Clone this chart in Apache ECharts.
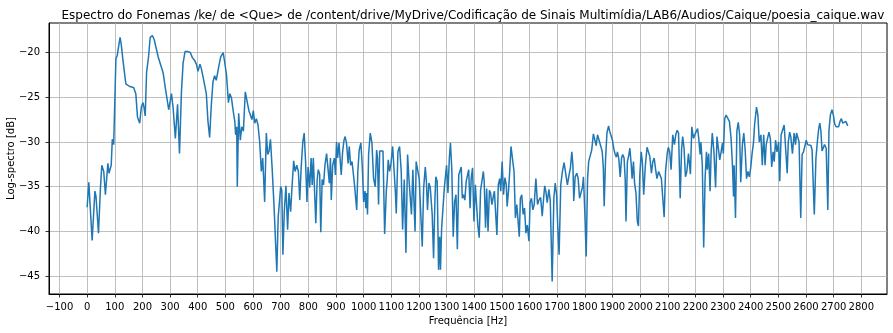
<!DOCTYPE html>
<html>
<head>
<meta charset="utf-8">
<script src="https://cdn.jsdelivr.net/npm/echarts@6/dist/echarts.min.js"></script>
<style>html,body{margin:0;padding:0;background:#fff;}#c{width:893px;height:333px;}</style>
</head>
<body>
<div id="c"></div>
<script>
const chartTitle = "Espectro do Fonemas /ke/ de <Que> de /content/drive/MyDrive/Codificação de Sinais Multimídia/LAB6/Audios/Caique/poesia_caique.wav";
const xTicks = [-100,0,100,200,300,400,500,600,700,800,900,1000,1100,1200,1300,1400,1500,1600,1700,1800,1900,2000,2100,2200,2300,2400,2500,2600,2700,2800];
const yTicks = [-45,-40,-35,-30,-25,-20];
const freqHz = [
0,6,18,28,32,41,48,53,60,66,75,79,87,91,96,104,109,119,123,130,140,147,154,161,168,176,182,186,190,196,202,206,210,215,222,228,236,243,248,251,257,
275,283,289,295,305,311,314,319,327,334,341,347,354,365,373,381,389,395,401,408,413,419,424,431,437,443,449,455,461,467,472,477,483,492,498,504,511,516,522,528,534,537,541,543,548,554,559,565,572,579,585,590,596,601,606,612,618,624,630,635,642,648,653,658,663,669,676,680,686,691,697,
700,704,708,713,719,725,730,736,741,747,752,758,764,769,774,780,785,790,795,799,805,810,814,818,822,827,832,836,841,845,850,855,860,866,871,876,880,883,888,894,898,902,906,911,915,919,924,929,933,938,944,948,953,958,962,967,975,979,984,990,995,1000,1005,1008,1011,1014,1018,1024,1030,1036,1042,1047,1050,1054,1058,1064,1070,1076,1082,1085,1089,1094,1099,1105,1110,1115,1118,1124,
1130,1136,1141,1147,1153,1159,1164,1169,1173,1178,1182,1186,1190,1196,1201,1206,1212,1217,1223,1227,1231,1236,1241,1245,1248,1253,1258,1261,1266,1271,1275,1278,1282,1287,1292,1295,1300,1305,1310,1314,1319,1324,1329,1334,1339,1344,1348,1353,1357,1361,1366,1371,1375,1380,1385,1389,1394,1399,1404,1408,1413,1418,1423,1428,1433,1436,1441,1445,1450,1455,1459,1464,1469,1473,1478,1482,1487,1492,1496,1501,1506,1511,1516,1519,1524,1528,1533,1539,1544,1549,1554,1558,
1563,1567,1572,1577,1582,1587,1592,1598,1602,1607,1612,1617,1623,1629,1634,1640,1646,1651,1655,1659,1664,1670,1675,1682,1688,1693,1698,1702,1707,1713,1719,1725,1731,1737,1743,1748,1753,1757,1760,1765,1771,1776,1781,1787,1792,1795,1800,1805,1810,1814,1820,1825,1831,1837,1841,1846,1852,1858,1863,1867,1870,1875,1880,1886,1890,1895,1900,1905,1910,1914,1918,1923,1928,1933,1937,1942,1946,1949,1954,1959,1963,1968,1971,1976,1980,1985,1990,1994,1999,
2004,2008,2013,2019,2025,2030,2035,2041,2046,2051,2057,2061,2067,2072,2077,2082,2087,2092,2098,2102,2107,2112,2118,2124,2129,2134,2139,2145,2150,2154,2159,2164,2169,2175,2178,2182,2187,2193,2198,2202,2208,2212,2217,2220,2225,2230,2235,2240,2243,2248,2253,2257,2261,2267,2273,2278,2283,2288,2293,2298,2301,2306,2311,2318,2323,2329,2334,2338,2340,2345,2350,2355,2360,2364,2370,2375,2380,2385,2390,2395,2400,2405,2410,2414,2421,2426,2431,
2437,2442,2447,2452,2456,2461,2466,2471,2476,2481,2485,2490,2495,2501,2505,2510,2516,2521,2525,2532,2536,2541,2545,2551,2557,2562,2566,2572,2575,2581,2586,2591,2596,2601,2606,2612,2618,2622,2630,2636,2641,2646,2650,2654,2658,2662,2667,2673,2679,2683,2688,2694,2699,2704,2709,2713,2718,2723,2728,2733,2739,2744,2749,2751
];
const logSpectrumDb = [
-37.3,-34.5,-41.0,-35.5,-36.1,-40.2,-35.2,-32.6,-33.3,-35.9,-32.4,-33.5,-32.6,-29.7,-30.3,-20.7,-20.3,-18.3,-19.0,-21.0,-23.5,-23.5,-23.8,-23.9,-23.9,-24.6,-27.2,-27.4,-27.9,-26.1,-25.6,-26.2,-27.1,-22.2,-20.5,-18.3,-18.1,-18.6,-19.3,-19.4,-20.5,
-22.3,-24.0,-23.9,-26.4,-24.6,-26.2,-26.4,-29.6,-25.8,-31.3,-24.4,-21.2,-19.9,-19.9,-20.0,-20.6,-20.9,-21.3,-22.1,-21.3,-21.8,-22.7,-22.9,-24.6,-27.7,-29.5,-25.9,-23.3,-22.6,-23.1,-23.3,-21.4,-20.5,-20.0,-21.2,-22.5,-25.6,-24.6,-25.1,-26.5,-27.7,-29.2,-28.3,-35.0,-26.8,-29.8,-28.3,-28.8,-24.4,-24.3,-26.5,-26.6,-27.5,-26.5,-27.9,-27.4,-28.1,-30.0,-33.3,-31.8,-36.7,-29.0,-31.4,-31.0,-29.7,-32.9,-37.2,-37.4,-44.5,-38.4,-38.3,
-35.0,-35.4,-42.6,-37.8,-34.9,-39.8,-35.7,-37.8,-35.0,-32.1,-33.3,-32.6,-33.3,-36.5,-32.9,-30.0,-29.0,-32.2,-36.7,-32.8,-35.1,-31.8,-34.8,-31.8,-31.6,-39.1,-34.2,-33.1,-33.6,-40.1,-34.2,-34.8,-32.6,-31.3,-31.1,-34.6,-31.8,-36.5,-32.6,-31.8,-33.7,-30.0,-31.8,-30.1,-30.3,-33.7,-31.1,-29.8,-29.4,-30.1,-32.4,-30.5,-32.6,-32.2,-33.3,-34.8,-37.6,-33.3,-30.9,-30.1,-32.6,-36.7,-35.5,-37.4,-35.7,-38.1,-31.4,-29.0,-30.1,-34.1,-35.0,-30.9,-31.8,-37.0,-31.0,-30.9,-31.0,-40.3,-35.5,-34.4,-32.0,-33.3,-32.4,-30.5,-30.7,-35.7,-38.0,-31.1,
-30.5,-33.3,-39.8,-34.2,-42.4,-31.4,-34.2,-34.4,-38.1,-33.1,-33.0,-40.0,-32.2,-32.0,-34.1,-34.1,-41.7,-35.2,-32.8,-34.4,-37.6,-34.6,-35.1,-35.2,-38.1,-43.0,-36.3,-33.9,-34.4,-44.3,-40.6,-44.3,-39.7,-39.6,-35.1,-35.2,-32.6,-35.7,-31.8,-30.1,-33.1,-40.6,-36.7,-35.9,-42.0,-33.7,-33.5,-32.8,-36.3,-35.9,-36.5,-34.4,-34.2,-33.1,-37.4,-34.1,-32.9,-38.9,-34.8,-34.7,-39.3,-40.7,-35.4,-35.4,-33.3,-34.4,-39.6,-35.2,-40.0,-35.4,-35.7,-37.0,-36.1,-35.5,-35.5,-40.4,-34.8,-34.1,-35.5,-32.2,-35.9,-34.0,-34.8,-37.2,-35.5,-33.5,-30.5,-30.5,-33.3,-38.5,-37.0,-37.2,
-40.6,-36.3,-35.9,-38.1,-37.4,-40.2,-39.3,-41.1,-36.8,-36.3,-37.6,-37.0,-34.1,-37.0,-36.5,-36.2,-38.3,-36.3,-34.9,-35.5,-36.8,-35.3,-36.5,-45.6,-36.3,-34.6,-35.9,-39.3,-42.6,-34.8,-33.3,-32.3,-32.3,-34.8,-33.7,-32.9,-31.1,-32.6,-36.6,-33.9,-33.5,-34.1,-36.3,-36.1,-35.0,-33.9,-37.8,-42.8,-34.1,-32.2,-32.0,-30.9,-29.1,-29.2,-30.4,-29.2,-29.4,-30.5,-31.1,-32.9,-37.2,-32.0,-29.0,-28.2,-28.8,-29.0,-29.8,-30.8,-31.4,-31.7,-31.1,-31.9,-33.9,-31.8,-31.4,-31.8,-34.1,-38.9,-32.2,-31.5,-30.7,-32.6,-34.1,-32.2,-34.6,-35.7,-38.9,-39.4,-33.7,
-31.1,-32.2,-35.9,-32.6,-30.6,-30.8,-31.6,-33.5,-32.2,-31.8,-33.3,-34.1,-33.3,-33.3,-34.1,-36.3,-38.4,-33.3,-31.3,-30.6,-31.1,-33.1,-29.2,-30.3,-29.2,-28.7,-29.0,-36.3,-30.8,-29.4,-30.7,-33.9,-33.3,-31.3,-31.1,-33.6,-28.3,-29.6,-29.2,-28.9,-28.5,-29.6,-31.4,-30.0,-32.6,-41.8,-34.1,-31.1,-33.1,-31.3,-35.5,-31.1,-29.0,-31.1,-35.1,-29.4,-29.2,-32.0,-31.1,-30.1,-31.3,-27.4,-27.0,-26.9,-27.7,-29.6,-32.6,-36.1,-32.6,-38.5,-28.8,-27.8,-29.2,-34.5,-30.3,-29.0,-30.9,-34.1,-33.3,-33.9,-32.9,-31.3,-30.1,-28.1,-26.1,-27.0,-30.0,
-29.2,-32.6,-29.2,-32.6,-30.3,-29.6,-28.9,-29.6,-32.8,-31.1,-32.2,-29.8,-31.1,-30.0,-34.4,-29.2,-29.2,-28.1,-28.3,-33.5,-30.0,-28.9,-29.4,-31.3,-29.0,-30.3,-29.0,-28.8,-30.0,-38.5,-31.4,-31.1,-30.9,-29.8,-30.3,-30.3,-30.4,-30.9,-38.1,-31.8,-30.0,-28.5,-27.9,-28.8,-31.0,-30.7,-30.3,-30.7,-37.6,-28.8,-27.0,-26.4,-27.0,-28.0,-28.3,-28.2,-28.3,-27.7,-27.4,-27.9,-27.9,-27.7,-27.9,-28.2
];

const FONT = "DejaVu Sans";
const fmtMinus = v => String(v).replace('-', '\u2212');
const seriesData = freqHz.map((f, i) => [f, logSpectrumDb[i]]);

const chart = echarts.init(document.getElementById('c'), null, {renderer: 'canvas'});
chart.setOption({
  animation: false,
  backgroundColor: '#fff',
  title: {
    text: chartTitle,
    left: 468,
    top: 5,
    textAlign: 'center',
    textStyle: {fontFamily: FONT, fontSize: 12, fontWeight: 'normal', color: '#000'}
  },
  grid: {left: 49, right: 6, top: 23, bottom: 39, containLabel: false, outerBoundsMode: 'none', show: true, borderColor: '#000', borderWidth: 1, backgroundColor: 'transparent'},
  xAxis: {
    type: 'value', min: -138, max: 2893,
    name: 'Frequência [Hz]', nameLocation: 'middle', nameGap: 22, nameMoveOverlap: false,
    nameTextStyle: {fontFamily: FONT, fontSize: 10, color: '#000'},
    axisLine: {show: true, onZero: false, lineStyle: {color: '#000', width: 1}},
    axisTick: {show: true, inside: false, length: 3.5, customValues: xTicks, lineStyle: {color: '#000', width: 0.8}},
    axisLabel: {customValues: xTicks, margin: 8, fontFamily: FONT, fontSize: 10, color: '#000', formatter: fmtMinus, showMinLabel: true, showMaxLabel: true},
    splitLine: {show: true, lineStyle: {color: '#b0b0b0', width: 0.8}}
  },
  yAxis: {
    type: 'value', min: -47.0, max: -16.7,
    name: 'Log-spectro [dB]', nameLocation: 'middle', nameGap: 33, nameMoveOverlap: false,
    nameTextStyle: {fontFamily: FONT, fontSize: 10, color: '#000'},
    axisLine: {show: true, onZero: false, lineStyle: {color: '#000', width: 1}},
    axisTick: {show: true, inside: false, length: 3.5, customValues: yTicks, lineStyle: {color: '#000', width: 0.8}},
    axisLabel: {customValues: yTicks, margin: 9, fontFamily: FONT, fontSize: 10, color: '#000', formatter: fmtMinus},
    splitLine: {show: true, lineStyle: {color: '#b0b0b0', width: 0.8}}
  },
  series: [{
    type: 'line',
    data: seriesData,
    showSymbol: false,
    symbol: 'none',
    lineStyle: {color: '#1f77b4', width: 1.5},
    itemStyle: {color: '#1f77b4'},
    z: 3
  }]
});
</script>
</body>
</html>
